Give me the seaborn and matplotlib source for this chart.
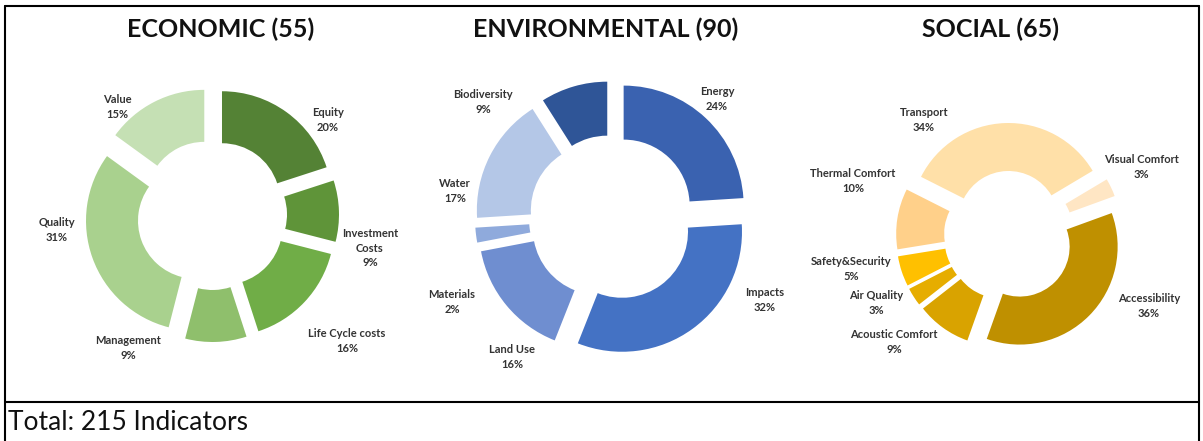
import matplotlib
matplotlib.use("Agg")
import matplotlib.pyplot as plt
from matplotlib.lines import Line2D
import seaborn as sns

# data
econ_labels = ["Equity", "Investment\nCosts", "Life Cycle costs", "Management", "Quality", "Value"]
econ_pct = [20, 9, 16, 9, 31, 15]

env_labels = ["Energy", "Impacts", "Land Use", "Materials", "Water", "Biodiversity"]
env_pct = [24, 32, 16, 2, 17, 9]

soc_labels = ["Accessibility", "Acoustic Comfort", "Air Quality", "Safety&Security",
              "Thermal Comfort", "Transport", "Visual Comfort"]
soc_pct = [36, 9, 3, 5, 10, 34, 3]

titles = ["ECONOMIC (55)", "ENVIRONMENTAL (90)", "SOCIAL (65)"]
total_text = "Total: 215 Indicators"

econ_colors = ["#548235", "#5f9439", "#70ad47", "#8fbf6c", "#a9d18e", "#c5e0b4"]
env_colors = ["#3a62b0", "#4472c4", "#6f8ed0", "#8faadc", "#b4c7e7", "#2f5597"]
soc_colors = ["#bf9000", "#d9a300", "#e6ad00", "#ffc000", "#ffd08a", "#ffe0a8", "#ffe6c4"]

# label offsets from donut centre (px), as laid out in the original
econ_lpos = [(116, 95), (158, -33), (135, -126), (-84, -133), (-155, -15), (-95, 108)]
env_lpos = [(105, 119), (153, -82), (-100, -139), (-160, -84), (-157, 27), (-129, 116)]
soc_lpos = [(140, -70), (-115, -106), (-133, -67), (-158, -33), (-156, 55), (-85, 116), (132, 69)]

sns.set_theme(style="white")
plt.rcParams["font.family"] = ["Lato", "DejaVu Sans"]

W, H = 1203, 441
fig = plt.figure(figsize=(W / 100, H / 100), dpi=100)


def donut(cx, cy, labels, pct, colors, radius, width, start, expl, lpos):
    size = 340
    ax = fig.add_axes([(cx - size / 2) / W, 1 - (cy + size / 2) / H, size / W, size / H])
    texts = [f"{l}\n{p}%" for l, p in zip(labels, pct)]
    wedges, lbls = ax.pie(pct, labels=texts, colors=colors, radius=radius,
                          startangle=start, counterclock=False,
                          explode=[expl] * len(pct),
                          wedgeprops=dict(width=width, linewidth=0),
                          textprops=dict(fontsize=8, fontweight="bold", color="#333333"))
    for t, (dx, dy) in zip(lbls, lpos):
        t.set_position((dx / 100, dy / 100))
        t.set_horizontalalignment("center")
        t.set_verticalalignment("center")
        t.set_linespacing(1.35)
    ax.set_xlim(-1.7, 1.7)
    ax.set_ylim(-1.7, 1.7)
    ax.set_aspect("equal")
    ax.axis("off")
    return ax


donut(212, 215, econ_labels, econ_pct, econ_colors, 1.1, 0.52, 90, 0.17, econ_lpos)
donut(612, 218, env_labels, env_pct, env_colors, 1.2, 0.54, 90, 0.17, env_lpos)
donut(1009, 236, soc_labels, soc_pct, soc_colors, 0.98, 0.48, 20, 0.15, soc_lpos)

for x, t in zip([221, 606, 990], titles):
    fig.text(x / W, 1 - 29 / H, t, ha="center", va="center", fontsize=18, fontweight="bold",
             color="#111111")

fig.text(8 / W, 1 - 422 / H, total_text, ha="left", va="center", fontsize=19, color="#111111")

# table borders
lw = 1.5
fig.add_artist(Line2D([5 / W, 1199 / W], [1 - 6 / H, 1 - 6 / H], color="black", lw=lw))
fig.add_artist(Line2D([5 / W, 5 / W], [0, 1 - 6 / H], color="black", lw=lw))
fig.add_artist(Line2D([1199 / W, 1199 / W], [0, 1 - 6 / H], color="black", lw=lw))
fig.add_artist(Line2D([5 / W, 1199 / W], [1 - 402 / H, 1 - 402 / H], color="black", lw=lw))

fig.savefig("out.png", dpi=100, facecolor="white")
